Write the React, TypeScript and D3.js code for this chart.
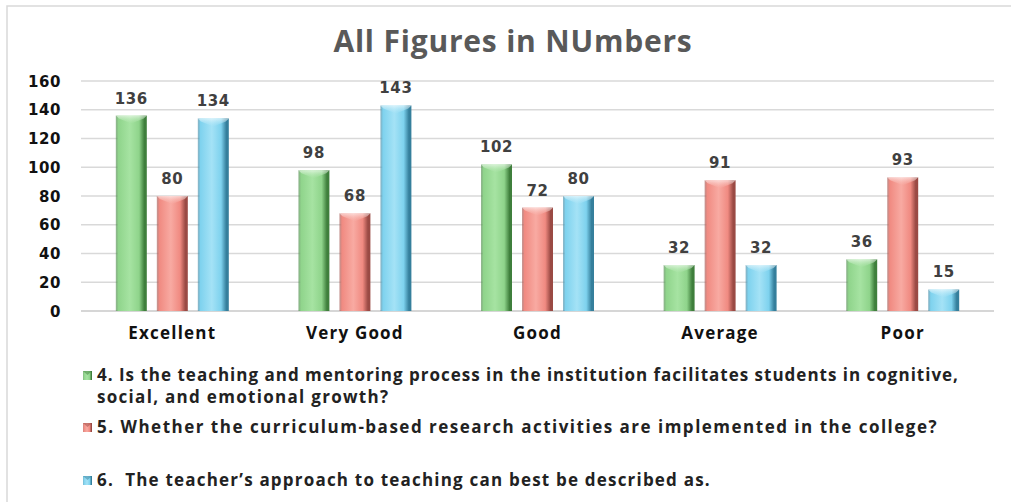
import React from "react";
import * as d3 from "d3";

const categories = ["Excellent", "Very Good", "Good", "Average", "Poor"];
const seriesNames = [
  "4. Is the teaching and mentoring process in the institution facilitates students in cognitive,|social, and emotional growth?",
  "5. Whether the curriculum-based research activities are implemented in the college?",
  "6.  The teacher’s approach to teaching can best be described as.",
];
const q4 = [136, 98, 102, 32, 36];
const q5 = [80, 68, 72, 91, 93];
const q6 = [134, 143, 80, 32, 15];
const yTicks = [0, 20, 40, 60, 80, 100, 120, 140, 160];

const series = [q4, q5, q6];
const palette = [
  { light: "#a6e3a2", main: "#8fd48b", dark: "#3f7f3c" },
  { light: "#f8aaa2", main: "#f08a81", dark: "#9a4a44" },
  { light: "#a4e2f6", main: "#7ed2ee", dark: "#357f9c" },
];

export default function App() {
  const W = 1011, H = 502;
  const left = 81, right = 994, top = 81, bottom = 311;
  const x = d3.scaleBand<string>().domain(categories).range([left, right]);
  const y = d3.scaleLinear().domain([0, 160]).range([bottom, top]);
  const barW = 31;
  const step = 41;
  const font = "'Open Sans', sans-serif";
  const numFont = "'DejaVu Sans', sans-serif";

  const legendYs = [[381, 403], [433], [486]];
  const legendSpacing = [[1.0, 1.3], [1.5], [1.2]];

  return (
    <svg width={W} height={H} style={{ position: "absolute", left: 0, top: 0, background: "#fff" }}>
      <defs>
        {palette.map((p, i) => (
          <linearGradient key={i} id={`g${i}`} x1="0" x2="1" y1="0" y2="0">
            <stop offset="0" stopColor={p.dark} stopOpacity={0.55} />
            <stop offset="0.08" stopColor={p.main} />
            <stop offset="0.45" stopColor={p.light} />
            <stop offset="0.75" stopColor={p.main} />
            <stop offset="0.92" stopColor={p.dark} />
            <stop offset="1" stopColor={p.dark} />
          </linearGradient>
        ))}
        {palette.map((p, i) => (
          <linearGradient key={"t" + i} id={`t${i}`} x1="0" x2="0" y1="0" y2="1">
            <stop offset="0" stopColor="#ffffff" stopOpacity={0.6} />
            <stop offset="1" stopColor={p.light} stopOpacity={0.2} />
          </linearGradient>
        ))}
      </defs>
      <rect x={7} y={6} width={1010} height={510} fill="#fff" stroke="#d9d9d9" strokeWidth={1.5} />
      <text x={513} y={52} textAnchor="middle" fontFamily={font} fontWeight={700} fontSize={30} letterSpacing={0.8} fill="#595959">
        All Figures in NUmbers
      </text>
      {yTicks.map((t) => (
        <g key={t}>
          <line x1={left} x2={right} y1={y(t)} y2={y(t)} stroke={t === 0 ? "#c8c8c8" : "#d9d9d9"} strokeWidth={1.3} />
          <text x={61} y={y(t) + 5.5} textAnchor="end" fontFamily={numFont} fontWeight={700} fontSize={15} letterSpacing={0.6} fill="#111">
            {t}
          </text>
        </g>
      ))}
      {categories.map((c, ci) => {
        const cx = (x(c) as number) + x.bandwidth() / 2;
        return (
          <g key={c}>
            {series.map((s, si) => {
              const v = s[ci];
              const bx = cx + (si - 1) * step - barW / 2;
              const by = y(v);
              const bh = bottom - by;
              const notch = Math.min(8, bh / 2);
              return (
                <g key={si}>
                  <rect x={bx} y={by} width={barW} height={bh} fill={`url(#g${si})`} />
                  <path
                    d={`M${bx},${by} L${bx + barW},${by} L${bx + barW - 3},${by + 3} L${bx + barW / 2},${by + notch} L${bx + 3},${by + 3} Z`}
                    fill={`url(#t${si})`}
                  />
                  <text x={bx + barW / 2} y={by - 12} textAnchor="middle" fontFamily={numFont} fontWeight={700} fontSize={15} letterSpacing={0.6} fill="#404040">
                    {v}
                  </text>
                </g>
              );
            })}
            <text x={cx} y={339} textAnchor="middle" fontFamily={font} fontWeight={700} fontSize={17} letterSpacing={1.2} fill="#111">
              {c}
            </text>
          </g>
        );
      })}
      {seriesNames.map((n, i) => {
        const lines = n.split("|");
        const p = palette[i];
        const ly = legendYs[i];
        return (
          <g key={i}>
            <rect x={83} y={ly[0] - 10} width={9} height={9} fill={`url(#g${i})`} />
            <path d={`M83,${ly[0] - 10} L92,${ly[0] - 10} L87.5,${ly[0] - 6} Z`} fill={p.dark} opacity={0.5} />
            {lines.map((l, li) => (
              <text key={li} x={97} y={ly[li]} fontFamily={font} fontWeight={700} fontSize={17} letterSpacing={legendSpacing[i][li]} fill="#222" style={{ whiteSpace: "pre" }}>
                {l}
              </text>
            ))}
          </g>
        );
      })}
    </svg>
  );
}
